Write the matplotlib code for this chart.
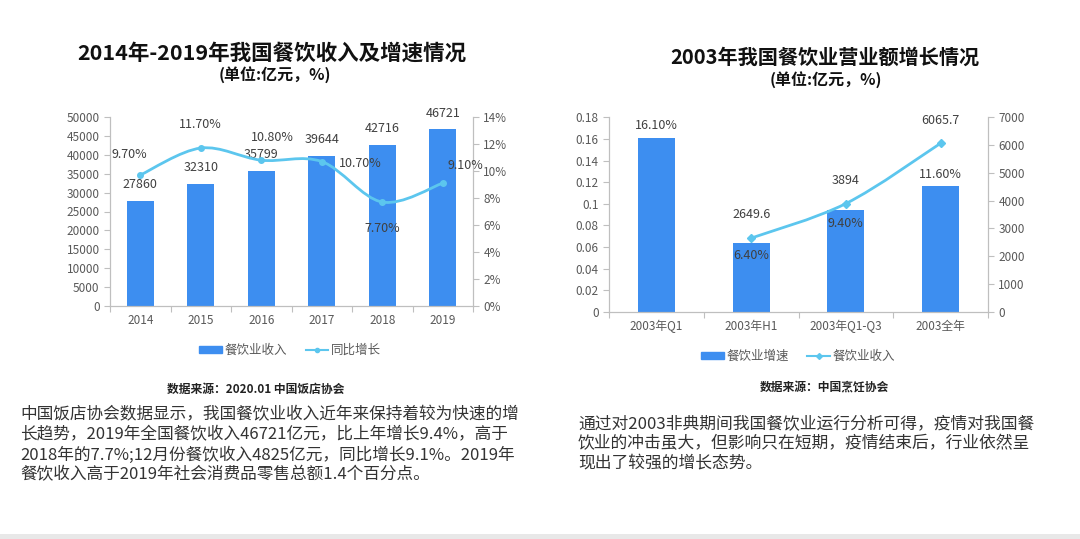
import numpy as np
import matplotlib
matplotlib.use('Agg')
import matplotlib.pyplot as plt
from matplotlib.path import Path
from matplotlib.patches import PathPatch, Rectangle, Patch
from matplotlib.lines import Line2D
from matplotlib.ticker import FuncFormatter, FixedLocator

plt.rcParams['font.family'] = ['Noto Sans CJK SC', 'DejaVu Sans']

# ---- data ----
years = ['2014', '2015', '2016', '2017', '2018', '2019']
revenue = [27860, 32310, 35799, 39644, 42716, 46721]
growth = [9.7, 11.7, 10.8, 10.7, 7.7, 9.1]

periods = ['2003年Q1', '2003年H1', '2003年Q1-Q3', '2003全年']
growth_2003 = [0.161, 0.064, 0.094, 0.116]
revenue_2003 = [np.nan, 2649.6, 3894, 6065.7]

BAR = '#3d8ef0'
LINE = '#5cc6ee'
TICK = '#595959'
SPINE = '#bfbfbf'

W, H = 1080, 539
fig = plt.figure(figsize=(W / 100, H / 100), dpi=100)
fig.patch.set_facecolor('white')


def px(x, y):
    return x / W, 1 - y / H


def smooth_path(xs, ys, t=1 / 6):
    pts = [np.array([x, y], float) for x, y in zip(xs, ys) if not np.isnan(y)]
    n = len(pts)
    verts = [pts[0]]
    codes = [Path.MOVETO]
    for i in range(n - 1):
        p0 = pts[i - 1] if i > 0 else pts[i]
        p1 = pts[i]
        p2 = pts[i + 1]
        p3 = pts[i + 2] if i + 2 < n else pts[i + 1]
        c1 = p1 + (p2 - p0) * t
        c2 = p2 - (p3 - p1) * t
        verts += [c1, c2, p2]
        codes += [Path.CURVE4] * 3
    return Path(verts, codes)


def style_axes(ax, ax2, ncat):
    for a in (ax, ax2):
        a.spines['top'].set_visible(False)
        for s in ('left', 'right', 'bottom'):
            a.spines[s].set_color(SPINE)
            a.spines[s].set_linewidth(0.8)
        a.tick_params(axis='y', colors=SPINE, labelcolor=TICK, labelsize=8.5,
                      length=4, width=0.8, direction='out')
    ax.set_xlim(-0.5, ncat - 0.5)
    ax.set_xticks(range(ncat))
    ax.xaxis.set_minor_locator(FixedLocator(np.arange(-0.5, ncat, 1.0)))
    ax.tick_params(axis='x', which='major', length=0, labelsize=8.5,
                   labelcolor=TICK, pad=6)
    ax.tick_params(axis='x', which='minor', length=4, color=SPINE, width=0.8)


# ================= Left chart =================
axL = fig.add_axes([110 / W, 1 - 306 / H, 363 / W, (306 - 117) / H])
axL2 = axL.twinx()
x = np.arange(len(years))
axL.bar(x, revenue, width=0.45, color=BAR, zorder=2)
axL.set_ylim(0, 50000)
axL.set_yticks(range(0, 50001, 5000))
axL.set_xticklabels(years)
axL2.set_ylim(0, 14)
axL2.set_yticks(range(0, 15, 2))
axL2.yaxis.set_major_formatter(FuncFormatter(lambda v, p: f'{v:.0f}%'))
style_axes(axL, axL2, len(years))
axL2.add_patch(PathPatch(smooth_path(x, growth), fill=False, edgecolor=LINE,
                         lw=2, zorder=3))
axL2.plot(x, growth, ls='none', marker='o', ms=4, color=LINE, zorder=4)

for xi, v in zip(x, revenue):
    axL.annotate(f'{v}', (xi, v), xytext=(0, 7), textcoords='offset points',
                 ha='center', va='bottom', fontsize=9, color='#404040', zorder=5)
g_off = [(-8, 10), (0, 12), (8, 12), (28, -6), (0, -24), (16, 8)]
for xi, v, off in zip(x, growth, g_off):
    axL2.annotate(f'{v:.2f}%', (xi, v), xytext=off, textcoords='offset points',
                  ha='center', va='bottom', fontsize=9, color='#404040', zorder=5)

fig.legend(handles=[Patch(color=BAR, label='餐饮业收入'),
                    Line2D([], [], color=LINE, marker='o', ms=3, lw=1.5, label='同比增长')],
           loc='center', bbox_to_anchor=px(290, 350), ncol=2, frameon=False,
           fontsize=9, labelcolor=TICK, handlelength=1.8, handleheight=0.5,
           columnspacing=1.5, handletextpad=0.2)

# ================= Right chart =================
axR = fig.add_axes([609 / W, 1 - 311.7 / H, 379 / W, (311.7 - 117.3) / H])
axR2 = axR.twinx()
xr = np.arange(len(periods))
axR.bar(xr, growth_2003, width=0.39, color=BAR, zorder=2)
axR.set_ylim(0, 0.18)
axR.set_yticks(np.arange(0, 0.181, 0.02))
axR.yaxis.set_major_formatter(FuncFormatter(lambda v, p: f'{round(v, 2):g}'))
axR.set_xticklabels(periods)
axR2.set_ylim(0, 7000)
axR2.set_yticks(range(0, 7001, 1000))
style_axes(axR, axR2, len(periods))
axR2.add_patch(PathPatch(smooth_path(xr, revenue_2003), fill=False,
                         edgecolor=LINE, lw=2, zorder=3))
axR2.plot(xr, revenue_2003, ls='none', marker='D', ms=4, color=LINE, zorder=4)

b_off = [(0, 4), (0, -14), (0, -14), (0, 4)]
for xi, v, off in zip(xr, growth_2003, b_off):
    axR.annotate(f'{v * 100:.2f}%', (xi, v), xytext=off, textcoords='offset points',
                 ha='center', va='bottom', fontsize=9, color='#404040', zorder=5)
for xi, v in zip(xr, revenue_2003):
    if not np.isnan(v):
        axR2.annotate(f'{v:g}', (xi, v), xytext=(0, 12), textcoords='offset points',
                      ha='center', va='bottom', fontsize=9, color='#404040', zorder=5)

fig.legend(handles=[Patch(color=BAR, label='餐饮业增速'),
                    Line2D([], [], color=LINE, marker='D', ms=3, lw=1.5, label='餐饮业收入')],
           loc='center', bbox_to_anchor=px(798, 356), ncol=2, frameon=False,
           fontsize=9, labelcolor=TICK, handlelength=1.8, handleheight=0.5,
           columnspacing=1.5, handletextpad=0.2)

# ================= Titles / texts =================
fig.text(*px(272, 53), '2014年-2019年我国餐饮收入及增速情况', ha='center', va='center',
         fontsize=15.5, fontweight='bold', color='#111111')
fig.text(*px(275, 75), '(单位:亿元，%)', ha='center', va='center',
         fontsize=11.5, fontweight='bold', color='#111111')
fig.text(*px(825, 57), '2003年我国餐饮业营业额增长情况', ha='center', va='center',
         fontsize=14.5, fontweight='bold', color='#111111')
fig.text(*px(826, 80), '(单位:亿元，%)', ha='center', va='center',
         fontsize=11.5, fontweight='bold', color='#111111')

fig.text(*px(256, 389), '数据来源：2020.01 中国饭店协会', ha='center', va='center',
         fontsize=8.5, fontweight='bold', color='#222222')
fig.text(*px(824, 387), '数据来源：中国烹饪协会', ha='center', va='center',
         fontsize=8.5, fontweight='bold', color='#222222')

left_para = ['中国饭店协会数据显示，我国餐饮业收入近年来保持着较为快速的增',
             '长趋势，2019年全国餐饮收入46721亿元，比上年增长9.4%，高于',
             '2018年的7.7%;12月份餐饮收入4825亿元，同比增长9.1%。2019年',
             '餐饮收入高于2019年社会消费品零售总额1.4个百分点。']
for i, line in enumerate(left_para):
    fig.text(*px(20, 415 + i * 20), line, ha='left', va='center',
             fontsize=12, color='#333333')

right_para = ['通过对2003非典期间我国餐饮业运行分析可得，疫情对我国餐',
              '饮业的冲击虽大，但影响只在短期，疫情结束后，行业依然呈',
              '现出了较强的增长态势。']
for i, line in enumerate(right_para):
    fig.text(*px(578, 424 + i * 20), line, ha='left', va='center',
             fontsize=12.1, color='#333333')

fig.add_artist(Rectangle((0, 0), 1, 5 / H, transform=fig.transFigure,
                         facecolor='#e8e8e8', edgecolor='none'))

fig.savefig('out.png', dpi=100, facecolor='white')
